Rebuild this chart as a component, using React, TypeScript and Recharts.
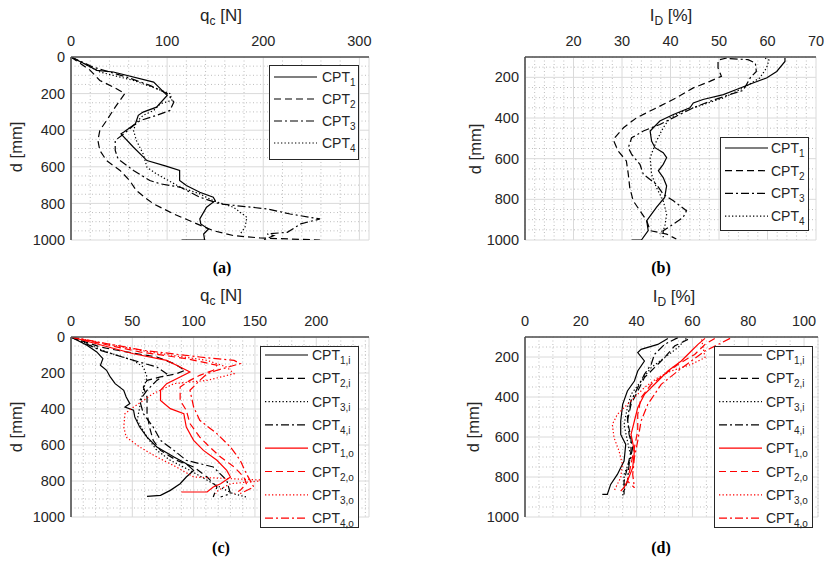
import React from "react";
import { LineChart, Line, XAxis, YAxis, CartesianGrid } from "recharts";

// every profile is a list of [depth d in mm, value]
type Pair = [number, number];

// (a) cone resistance q_c [N]
const aCpt1: Pair[] = [[0,0],[40,15],[73,27],[82,44],[137,86],[210,100],[274,89],[301,75],[319,70],[365,67],[410,55],[420,52],[493,65],[566,79],[595,98],[620,113],[675,113],[702,120],[739,134],[766,148],[785,150],[821,141],[885,134],[912,135],[940,143],[967,138],[1000,139],[1000,115]];
const aCpt2: Pair[] = [[0,0],[73,20],[128,30],[164,44],[200,56],[274,46],[347,37],[401,30],[456,28],[511,30],[566,37],[620,51],[675,61],[730,68],[776,79],[803,86],[858,107],[912,131],[949,148],[976,169],[989,197],[1000,259]];
const aCpt3: Pair[] = [[0,0],[55,23],[110,58],[155,82],[200,100],[246,107],[292,103],[319,89],[347,72],[374,65],[420,55],[456,46],[511,46],[557,49],[620,65],[675,82],[693,93],[712,114],[766,134],[803,155],[830,204],[858,228],[885,259],[912,239],[958,225],[967,204],[976,211],[1000,200]];
const aCpt4: Pair[] = [[0,0],[82,30],[128,65],[173,89],[200,103],[237,105],[255,93],[292,86],[319,75],[356,68],[401,65],[456,68],[529,75],[602,79],[639,89],[712,114],[748,134],[785,148],[821,169],[876,183],[931,181],[967,176]];

// (b) relative density I_D [%]
const bCpt1: Pair[] = [[105,63.6],[122,63.6],[171,61.9],[203,59.8],[228,57],[260,53.6],[285,50.9],[309,46.7],[326,44.7],[350,44],[383,40.6],[415,37.8],[464,35.8],[513,36.1],[546,36.8],[571,38.5],[595,39.2],[628,38.5],[660,37.5],[693,38.5],[734,39.2],[791,38.8],[840,37.1],[905,35.1],[954,35.4],[1000,34],[1000,32]];
const bCpt2: Pair[] = [[105,51.6],[115,49.8],[154,49.8],[195,50.5],[220,48.1],[252,44.7],[301,41.2],[350,37.1],[399,33],[448,30.3],[497,28.5],[513,28.3],[562,29.2],[611,30.9],[677,31.3],[742,31.6],[807,32.3],[856,33.7],[905,35.1],[954,35.8],[971,39.2],[995,41.2]];
const bCpt3: Pair[] = [[108,52.2],[113,56],[130,57.5],[171,57.7],[200,56.5],[264,55],[285,52.2],[318,48.1],[350,44.7],[391,41.2],[432,37.8],[464,34.4],[497,32],[546,31.3],[579,32],[628,33.7],[677,34.4],[726,37.1],[775,38.5],[807,40.6],[856,43.3],[889,42.6],[922,40.6],[954,38.5],[987,38.5]];
const bCpt4: Pair[] = [[105,59.5],[115,60.3],[154,59.8],[203,58.4],[252,55],[301,50.9],[334,46.7],[366,42.6],[399,39.9],[448,38.5],[513,37.1],[595,35.8],[677,36.1],[742,37.1],[807,38.5],[873,39.2],[938,38.8],[971,37.8]];

// (c) q_c [N], inner (i) and outer (o) tests
const cCpt1i: Pair[] = [[0,0],[46,13],[83,21],[120,26],[157,24],[185,29],[222,32],[259,36],[296,43],[333,45],[370,48],[389,44],[407,51],[444,52],[500,56],[556,62],[611,70],[667,84],[704,94],[741,100],[778,94],[815,89],[852,81],[880,73],[885,62]];
const cCpt2i: Pair[] = [[0,0],[56,24],[83,45],[111,70],[148,84],[185,93],[204,86],[222,73],[241,62],[278,59],[333,62],[426,62],[500,64],[574,67],[630,73],[685,86],[722,100],[778,111],[833,119],[889,116]];
const cCpt3i: Pair[] = [[0,0],[83,29],[130,51],[167,59],[222,62],[296,59],[389,56],[463,54],[556,62],[630,70],[685,81],[741,97],[815,116],[870,132],[889,143]];
const cCpt4i: Pair[] = [[0,0],[74,24],[130,51],[167,70],[204,78],[241,70],[296,62],[352,56],[426,59],[500,67],[574,73],[630,84],[685,94],[722,116],[796,127],[870,130],[889,122]];
const cCpt1o: Pair[] = [[0,0],[93,51],[130,78],[167,89],[194,97],[222,89],[259,78],[296,73],[352,73],[398,81],[426,92],[500,94],[574,100],[630,108],[685,119],[741,127],[778,130],[815,122],[833,116],[861,111],[861,90]];
const cCpt2o: Pair[] = [[0,0],[83,56],[120,94],[157,119],[185,116],[213,105],[241,97],[278,89],[352,89],[407,94],[481,97],[556,105],[611,113],[667,122],[722,133],[778,141],[815,143],[852,138],[870,133]];
const cCpt3o: Pair[] = [[0,0],[83,64],[130,111],[167,127],[204,133],[241,111],[259,84],[315,67],[389,51],[426,44],[500,43],[556,45],[611,56],[667,70],[722,86],[778,100],[796,160],[815,130],[852,120],[870,118]];
const cCpt4o: Pair[] = [[0,0],[74,59],[111,105],[130,133],[148,138],[185,119],[204,111],[241,105],[296,97],[389,100],[463,105],[537,119],[611,130],[685,138],[759,143],[833,149],[870,138]];

// (d) I_D [%], inner (i) and outer (o) tests
const dCpt1i: Pair[] = [[107,51.2],[137,47.6],[162,41.6],[178,40.4],[220,42.8],[270,40.4],[320,39.2],[370,36.7],[437,35],[520,34.3],[587,34.3],[637,36.1],[720,35.5],[787,33.1],[837,30.7],[887,29.5],[887,27.7]];
const dCpt2i: Pair[] = [[112,58.4],[145,53.6],[203,50],[253,46.4],[303,42.8],[370,40.4],[437,38],[520,36.7],[603,38],[670,38],[753,36.7],[820,35.5],[887,35.5]];
const dCpt3i: Pair[] = [[107,57.8],[153,54.8],[203,50],[253,45.2],[320,41.6],[387,38],[453,36.7],[537,35.5],[620,36.7],[703,38],[787,35.5],[853,35.5],[903,34.9]];
const dCpt4i: Pair[] = [[103,54.8],[137,50],[187,46.4],[237,45.2],[287,42.8],[353,40.4],[420,38],[503,36.7],[587,37.3],[653,38.6],[737,37.3],[820,36.7],[870,35.5]];
const dCpt1o: Pair[] = [[107,64.5],[137,62],[170,59.6],[220,56],[270,51.2],[320,47.6],[387,42.8],[453,40.4],[520,39.2],[587,38],[670,39.2],[753,38.6],[820,36.7],[853,35.5],[870,34.3]];
const dCpt2o: Pair[] = [[107,68],[137,64.5],[187,60.8],[237,54.8],[287,50],[337,45.2],[403,41.6],[487,40.4],[570,40.4],[653,39.2],[737,38],[820,36.7],[853,39.2]];
const dCpt3o: Pair[] = [[112,63.3],[203,64.5],[237,59.6],[270,52.4],[303,47.6],[353,42.8],[437,36.7],[487,33.1],[537,31.3],[603,31.9],[670,33.7],[737,34.9],[803,34.3],[853,32.5],[870,31.9]];
const dCpt4o: Pair[] = [[107,73.5],[137,69.3],[170,64.5],[220,59.6],[270,54.8],[337,48.8],[437,44],[520,41.6],[620,40.4],[703,39.2],[787,38.6],[853,39.2]];

// ticks
const qcTicksA = [0, 100, 200, 300];
const idTicksB = [20, 30, 40, 50, 60, 70];
const qcTicksC = [0, 50, 100, 150, 200];
const idTicksD = [0, 20, 40, 60, 80, 100];
const depthTicks0 = [0, 200, 400, 600, 800, 1000];
const depthTicks100 = [200, 400, 600, 800, 1000];

const BLACK = "#000000";
const RED = "#ff0000";
const DASH = "7 4";
const DASHDOT = "8 3 2 3";
const DOT = "1.3 2.2";
const FONT = "'Liberation Sans', Arial, sans-serif";
const TEXT = "#262626";

interface Series {
  sub: string;
  data: Pair[];
  color: string;
  dash?: string;
}

const seriesA: Series[] = [
  { sub: "1", data: aCpt1, color: BLACK },
  { sub: "2", data: aCpt2, color: BLACK, dash: DASH },
  { sub: "3", data: aCpt3, color: BLACK, dash: DASHDOT },
  { sub: "4", data: aCpt4, color: BLACK, dash: DOT },
];
const seriesB: Series[] = [
  { sub: "1", data: bCpt1, color: BLACK },
  { sub: "2", data: bCpt2, color: BLACK, dash: DASH },
  { sub: "3", data: bCpt3, color: BLACK, dash: DASHDOT },
  { sub: "4", data: bCpt4, color: BLACK, dash: DOT },
];
const seriesC: Series[] = [
  { sub: "1,i", data: cCpt1i, color: BLACK },
  { sub: "2,i", data: cCpt2i, color: BLACK, dash: DASH },
  { sub: "3,i", data: cCpt3i, color: BLACK, dash: DOT },
  { sub: "4,i", data: cCpt4i, color: BLACK, dash: DASHDOT },
  { sub: "1,o", data: cCpt1o, color: RED },
  { sub: "2,o", data: cCpt2o, color: RED, dash: DASH },
  { sub: "3,o", data: cCpt3o, color: RED, dash: DOT },
  { sub: "4,o", data: cCpt4o, color: RED, dash: DASHDOT },
];
const seriesD: Series[] = [
  { sub: "1,i", data: dCpt1i, color: BLACK },
  { sub: "2,i", data: dCpt2i, color: BLACK, dash: DASH },
  { sub: "3,i", data: dCpt3i, color: BLACK, dash: DOT },
  { sub: "4,i", data: dCpt4i, color: BLACK, dash: DASHDOT },
  { sub: "1,o", data: dCpt1o, color: RED },
  { sub: "2,o", data: dCpt2o, color: RED, dash: DASH },
  { sub: "3,o", data: dCpt3o, color: RED, dash: DOT },
  { sub: "4,o", data: dCpt4o, color: RED, dash: DASHDOT },
];

function steps(from: number, to: number, step: number, skip: number[]) {
  const out: number[] = [];
  for (let v = from; v <= to + 1e-9; v += step) {
    const r = Math.round(v * 1000) / 1000;
    if (!skip.includes(r)) out.push(r);
  }
  return out;
}

interface PanelProps {
  left: number;
  top: number;
  width: number;
  height: number;
  margin: { top: number; left: number; right: number; bottom: number };
  xDomain: [number, number];
  xTicks: number[];
  xMinor: number;
  yDomain: [number, number];
  yTicks: number[];
  yMinor: number;
  series: Series[];
}

function Panel(p: PanelProps) {
  const minorX = steps(p.xDomain[0], p.xDomain[1], p.xMinor, p.xTicks);
  const minorY = steps(p.yDomain[0], p.yDomain[1], p.yMinor, p.yTicks);
  const tick = { fill: TEXT, fontSize: 14.5, fontFamily: FONT };
  const axisLine = { stroke: "#505050", strokeWidth: 1.6 };
  return (
    <div style={{ position: "absolute", left: p.left, top: p.top }}>
      <LineChart layout="vertical" width={p.width} height={p.height} margin={p.margin}>
        <CartesianGrid
          stroke="#bdbdbd"
          strokeDasharray="1 2.5"
          verticalValues={minorX}
          horizontalValues={minorY}
        />
        <CartesianGrid stroke="#dadada" />
        <XAxis
          type="number"
          orientation="top"
          domain={p.xDomain}
          ticks={p.xTicks}
          interval={0}
          allowDataOverflow
          height={30}
          tickLine={false}
          tickSize={6}
          tickMargin={5}
          axisLine={axisLine}
          tick={tick}
        />
        <YAxis
          type="number"
          dataKey="d"
          domain={p.yDomain}
          ticks={p.yTicks}
          interval={0}
          allowDataOverflow
          width={40}
          tickLine={false}
          tickSize={4}
          tickMargin={2}
          axisLine={axisLine}
          tick={tick}
        />
        {p.series.map((s) => (
          <Line
            key={s.sub}
            data={s.data.map(([d, v]) => ({ d, v }))}
            dataKey="v"
            type="linear"
            stroke={s.color}
            strokeWidth={1.2}
            strokeDasharray={s.dash}
            dot={false}
            activeDot={false}
            isAnimationActive={false}
          />
        ))}
      </LineChart>
    </div>
  );
}

function LegendBox(props: {
  x: number;
  y: number;
  w: number;
  h: number;
  first: number;
  step: number;
  textX: number;
  series: Series[];
}) {
  const { x, y, w, h, first, step, textX, series } = props;
  return (
    <g transform={`translate(${x},${y})`}>
      <rect x={0.5} y={0.5} width={w} height={h} fill="#fff" stroke="#262626" strokeWidth={1} />
      {series.map((s, i) => {
        const cy = first + i * step;
        return (
          <g key={s.sub}>
            <line x1={5} x2={48} y1={cy} y2={cy} stroke={s.color} strokeWidth={1.2} strokeDasharray={s.dash} />
            <text x={textX} y={cy + 5} fontSize={14} fill={TEXT} fontFamily={FONT}>
              CPT
              <tspan dy={4} fontSize={10}>{s.sub}</tspan>
            </text>
          </g>
        );
      })}
    </g>
  );
}

function Title({ x, y, main, sub, unit }: { x: number; y: number; main: string; sub: string; unit: string }) {
  return (
    <text x={x} y={y} textAnchor="middle" fontSize={17} fill={TEXT} fontFamily={FONT}>
      {main}
      <tspan dy={4} fontSize={12}>{sub}</tspan>
      <tspan dy={-4}>{" " + unit}</tspan>
    </text>
  );
}

function DepthLabel({ x, y }: { x: number; y: number }) {
  return (
    <text transform={`translate(${x},${y}) rotate(-90)`} textAnchor="middle" fontSize={16.5} fill={TEXT} fontFamily={FONT}>
      d [mm]
    </text>
  );
}

function Caption({ x, y, label }: { x: number; y: number; label: string }) {
  return (
    <text x={x} y={y} textAnchor="middle" fontSize={16} fontWeight="bold" fill="#000" fontFamily="'Liberation Serif', 'Times New Roman', serif">
      {label}
    </text>
  );
}

export default function App() {
  return (
    <div style={{ position: "absolute", left: 0, top: 0, width: 825, height: 568, background: "#fff", overflow: "hidden" }}>
      <Panel left={0} top={0} width={400} height={260} margin={{ top: 27, left: 31, right: 31, bottom: 20 }}
        xDomain={[0, 310]} xTicks={qcTicksA} xMinor={20} yDomain={[0, 1000]} yTicks={depthTicks0} yMinor={50} series={seriesA} />
      <Panel left={410} top={0} width={415} height={260} margin={{ top: 27, left: 75, right: 9, bottom: 20 }}
        xDomain={[10, 70]} xTicks={idTicksB} xMinor={2} yDomain={[100, 1000]} yTicks={depthTicks100} yMinor={50} series={seriesB} />
      <Panel left={0} top={280} width={400} height={260} margin={{ top: 27, left: 31, right: 31, bottom: 23 }}
        xDomain={[0, 243]} xTicks={qcTicksC} xMinor={10} yDomain={[0, 1000]} yTicks={depthTicks0} yMinor={50} series={seriesC} />
      <Panel left={410} top={280} width={415} height={260} margin={{ top: 27, left: 75, right: 7, bottom: 23 }}
        xDomain={[0, 105]} xTicks={idTicksD} xMinor={5} yDomain={[100, 1000]} yTicks={depthTicks100} yMinor={50} series={seriesD} />
      <svg width={825} height={568} style={{ position: "absolute", left: 0, top: 0, pointerEvents: "none" }}>
        <Title x={221} y={21} main="q" sub="c" unit="[N]" />
        <Title x={671} y={21} main="I" sub="D" unit="[%]" />
        <Title x={221} y={301} main="q" sub="c" unit="[N]" />
        <Title x={674} y={302} main="I" sub="D" unit="[%]" />
        <DepthLabel x={22} y={147} />
        <DepthLabel x={481} y={149} />
        <DepthLabel x={22} y={427} />
        <DepthLabel x={479} y={427} />
        <LegendBox x={269} y={65} w={89} h={94} first={12} step={22} textX={53} series={seriesA} />
        <LegendBox x={720} y={137} w={88} h={93} first={11} step={22.7} textX={51} series={seriesB} />
        <LegendBox x={260} y={346} w={98} h={181} first={9} step={23.3} textX={52} series={seriesC} />
        <LegendBox x={714} y={346} w={98} h={181} first={9} step={23.3} textX={52} series={seriesD} />
        <Caption x={222} y={273} label="(a)" />
        <Caption x={661} y={273} label="(b)" />
        <Caption x={221} y={553} label="(c)" />
        <Caption x={661} y={553} label="(d)" />
      </svg>
    </div>
  );
}
